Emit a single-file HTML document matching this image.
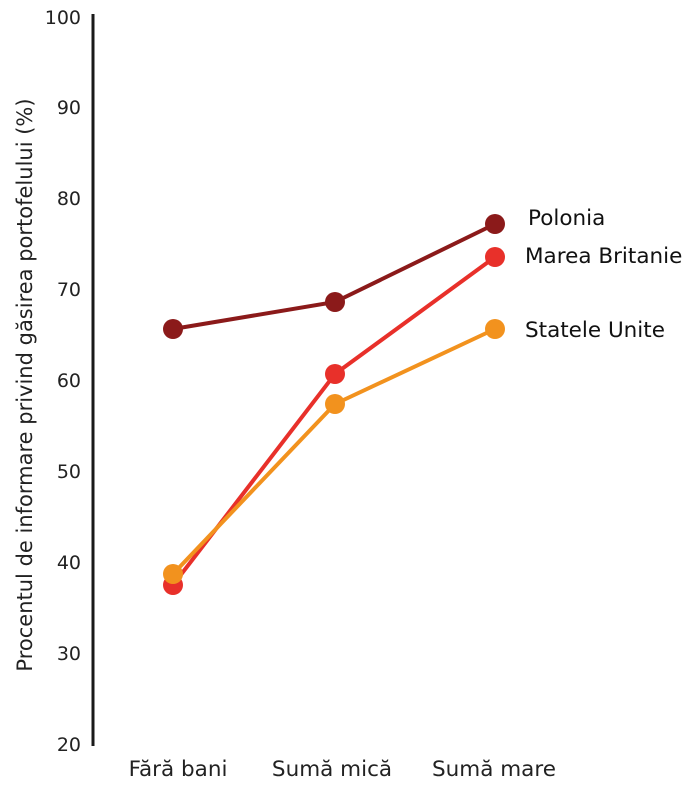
<!DOCTYPE html>
<html><head><meta charset="utf-8"><style>
html,body{margin:0;padding:0;background:#fff;}
svg{display:block;font-family:"DejaVu Sans","Liberation Sans",sans-serif;}
</style></head><body>
<svg width="700" height="786" viewBox="0 0 700 786" xmlns="http://www.w3.org/2000/svg">
<line x1="93" y1="14" x2="93" y2="746" stroke="#1a1a1a" stroke-width="3"/>
<g font-size="19" fill="#222" text-anchor="end">
<text x="81" y="24">100</text>
<text x="81" y="114">90</text>
<text x="81" y="205">80</text>
<text x="81" y="296">70</text>
<text x="81" y="387">60</text>
<text x="81" y="478">50</text>
<text x="81" y="569">40</text>
<text x="81" y="660">30</text>
<text x="81" y="751">20</text>
</g>
<text transform="translate(32,385) rotate(-90)" text-anchor="middle" font-size="21" fill="#222">Procentul de informare privind găsirea portofelului (%)</text>
<g font-size="21.5" fill="#222" text-anchor="middle">
<text x="178" y="776">Fără bani</text>
<text x="332" y="776">Sumă mică</text>
<text x="494" y="776">Sumă mare</text>
</g>
<polyline points="173,329 335,302 495,224" fill="none" stroke="#8b1a1a" stroke-width="4"/>
<polyline points="173,585 335,374 495,257" fill="none" stroke="#e8302a" stroke-width="4"/>
<polyline points="173,574 335,404 495,329" fill="none" stroke="#f2921e" stroke-width="4"/>
<g fill="#8b1a1a"><circle cx="173" cy="329" r="10"/><circle cx="335" cy="302" r="10"/><circle cx="495" cy="224" r="10"/></g>
<g fill="#e8302a"><circle cx="173" cy="585" r="10"/><circle cx="335" cy="374" r="10"/><circle cx="495" cy="257" r="10"/></g>
<g fill="#f2921e"><circle cx="173" cy="574" r="10"/><circle cx="335" cy="404" r="10"/><circle cx="495" cy="329" r="10"/></g>
<g font-size="21.5" fill="#111">
<text x="528" y="225">Polonia</text>
<text x="525" y="263">Marea Britanie</text>
<text x="525" y="337">Statele Unite</text>
</g>
</svg>
</body></html>
